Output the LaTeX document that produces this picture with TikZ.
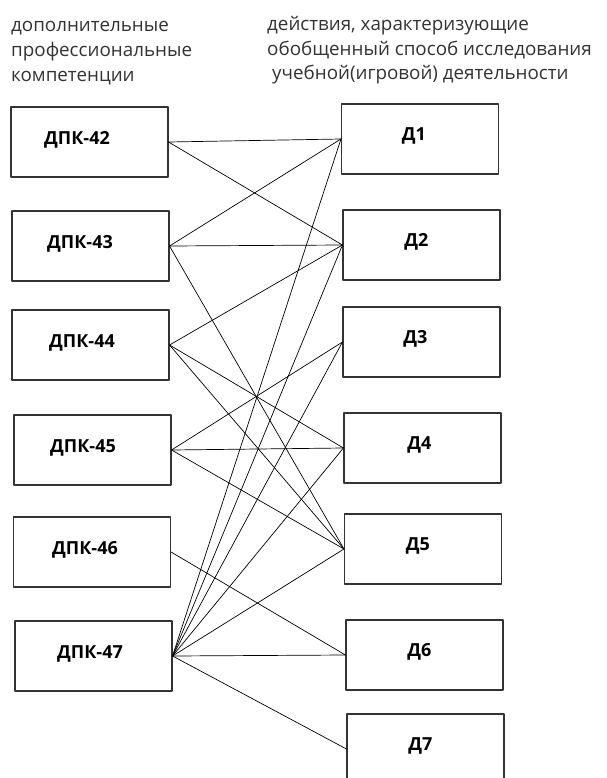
\documentclass[tikz,border=0pt]{standalone}
\usepackage{fontspec}
\setmainfont{Open Sans}
\begin{document}
\begin{tikzpicture}[x=1pt, y=-1pt, line join=round, line cap=round,
  box/.style={draw=black!80, line width=1.1pt, minimum width=157pt, minimum height=70pt, inner sep=0pt},
  lbl/.style={font=\bfseries\fontsize{18}{20}\selectfont, inner sep=0pt},
  head/.style={anchor=base west, inner sep=0pt, font=\fontsize{18.8}{24}\selectfont, text=black!80},
  link/.style={line width=0.7pt}]
\useasboundingbox (0,0) rectangle (606,778);
\clip (0,0) rectangle (606,778);
% headings
\node[head] (hleft1) at (11,32) {дополнительные};
\node[head] (hleft2) at (11,57) {профессиональные};
\node[head] (hleft3) at (11,82) {компетенции};
\node[head] (hright1) at (267,31) {действия, характеризующие};
\node[head] (hright2) at (267,55.5) {обобщенный способ исследования};
\node[head] (hright3) at (272,80) {учебной(игровой) деятельности};
% left column
\node[box, label={[lbl, xshift=-12.5pt, yshift=2pt]center:ДПК-42}] (dpk42) at (89.5,142) {};
\node[box, label={[lbl, xshift=-10.5pt, yshift=2pt]center:ДПК-43}] (dpk43) at (90.5,246) {};
\node[box, label={[lbl, xshift=-8.5pt, yshift=2pt]center:ДПК-44}] (dpk44) at (90.5,345) {};
\node[box, label={[lbl, xshift=-9.5pt, yshift=2pt]center:ДПК-45}] (dpk45) at (92.5,450) {};
\node[box, label={[lbl, xshift=-7pt, yshift=2pt]center:ДПК-46}] (dpk46) at (92,552) {};
\node[box, label={[lbl, xshift=-3.5pt, yshift=2pt]center:ДПК-47}] (dpk47) at (93.5,656) {};
% right column
\node[box, label={[lbl, xshift=-6pt, yshift=3pt]center:Д1}] (d1) at (420,139) {};
\node[box, label={[lbl, xshift=-5pt, yshift=3pt]center:Д2}] (d2) at (421.5,245) {};
\node[box, label={[lbl, xshift=-6pt, yshift=3pt]center:Д3}] (d3) at (421.5,342) {};
\node[box, label={[lbl, xshift=-3pt, yshift=3pt]center:Д4}] (d4) at (422.5,448) {};
\node[box, label={[lbl, xshift=-5pt, yshift=3pt]center:Д5}] (d5) at (423,549) {};
\node[box, label={[lbl, xshift=-5pt, yshift=3pt]center:Д6}] (d6) at (424.5,655) {};
\node[box, label={[lbl, xshift=-5pt, yshift=3pt]center:Д7}] (d7) at (425.5,749) {};
% links
\foreach \a/\b in {42/1,42/2,43/1,43/2,43/5,44/2,44/4,44/5,45/3,45/4,45/5,46/6,
                   47/1,47/2,47/3,47/4,47/5,47/6,47/7}
  \draw[link] (dpk\a.east) -- (d\b.west);
\end{tikzpicture}
\end{document}
